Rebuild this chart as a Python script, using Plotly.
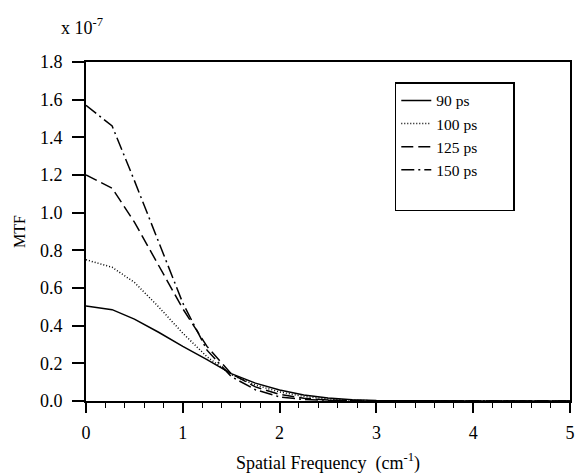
import plotly.graph_objects as go

freq = [0, 0.27, 0.5, 0.75, 1.0, 1.25, 1.5, 1.75, 2.0, 2.25, 2.5, 2.75, 3.0, 3.5, 4.0, 4.5, 5.0]
mtf_90 = [0.505, 0.485, 0.435, 0.365, 0.29, 0.22, 0.145, 0.095, 0.058, 0.032, 0.016, 0.007, 0.003, 0.0005, 0, 0, 0]
mtf_100 = [0.75, 0.71, 0.63, 0.50, 0.36, 0.235, 0.14, 0.085, 0.048, 0.024, 0.011, 0.004, 0.001, 0, 0, 0, 0]
mtf_125 = [1.20, 1.13, 0.95, 0.72, 0.49, 0.29, 0.145, 0.075, 0.035, 0.015, 0.005, 0.002, 0, 0, 0, 0, 0]
mtf_150 = [1.57, 1.46, 1.17, 0.85, 0.52, 0.27, 0.13, 0.06, 0.022, 0.008, 0.002, 0, 0, 0, 0, 0, 0]
names = ["90 ps", "100 ps", "125 ps", "150 ps"]
dashes = ["solid", "1px,2px", "12px,5px", "13px,4px,2px,4px"]
x_ticks = [0, 1, 2, 3, 4, 5]
y_ticks = [0, 0.2, 0.4, 0.6, 0.8, 1.0, 1.2, 1.4, 1.6, 1.8]
y_ticktext = ["0.0", "0.2", "0.4", "0.6", "0.8", "1.0", "1.2", "1.4", "1.6", "1.8"]

FONT = "Liberation Serif"
NB = "\u00a0"
fig = go.Figure()
for name, ys, d in zip(names, [mtf_90, mtf_100, mtf_125, mtf_150], dashes):
    fig.add_trace(go.Scatter(x=freq, y=ys, mode="lines", name=name + NB * 8,
                             line=dict(color="black", width=1.5, dash=d)))
# empty legend row to reproduce the spacing at the bottom of the legend box
fig.add_trace(go.Scatter(x=[0], y=[0], mode="lines", name=NB, line=dict(width=0, color="rgba(0,0,0,0)"),
                         hoverinfo="skip"))

fig.update_layout(
    width=575, height=474,
    margin=dict(l=86, r=5, t=62, b=73),
    paper_bgcolor="white", plot_bgcolor="white",
    font=dict(family=FONT, size=16, color="black"),
    showlegend=True,
    legend=dict(x=0.638, y=0.94, xanchor="left", yanchor="top",
                bordercolor="black", borderwidth=1.5, bgcolor="white",
                font=dict(family=FONT, size=15.5), tracegroupgap=0,
                itemwidth=30),
    xaxis=dict(range=[0, 5], tickvals=x_ticks, ticks="outside", automargin=False,
               ticklen=10, tickwidth=1.5, tickcolor="black",
               showline=True, linecolor="black", linewidth=2, mirror=True,
               showgrid=False, zeroline=False,
               tickfont=dict(family=FONT, size=18), ticklabelstandoff=4,
               minor=dict(dtick=0.2, ticks="outside", ticklen=5, tickwidth=1.2, tickcolor="black"),
               title=dict(text="Spatial Frequency  (cm<sup>-1</sup>)", font=dict(family=FONT, size=18), standoff=20)),
    yaxis=dict(range=[0, 1.8], tickvals=y_ticks, ticktext=y_ticktext, automargin=False,
               ticks="outside", ticklen=12, tickwidth=1.5, tickcolor="black",
               showline=True, linecolor="black", linewidth=2, mirror=True,
               showgrid=False, zeroline=False,
               tickfont=dict(family=FONT, size=18), ticklabelstandoff=6,
               title=dict(text="MTF", font=dict(family=FONT, size=16), standoff=10)),
    annotations=[dict(text="x 10<sup>-7</sup>", xref="paper", yref="paper",
                      x=-0.056, y=1.065, xanchor="left", yanchor="bottom", showarrow=False,
                      font=dict(family=FONT, size=18))],
)
fig.write_html("out.html")
